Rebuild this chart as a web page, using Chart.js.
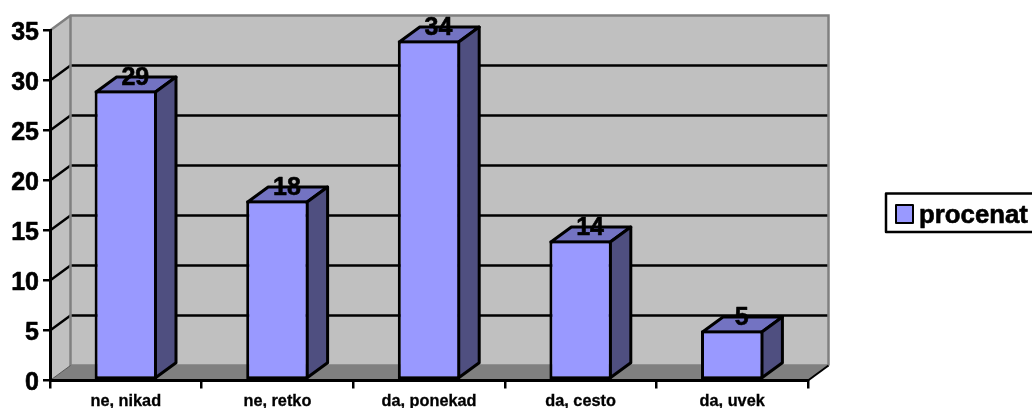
<!DOCTYPE html>
<html><head><meta charset="utf-8">
<style>html,body{margin:0;padding:0;background:#fff;overflow:hidden}canvas{display:block}</style>
<script src="https://cdn.jsdelivr.net/npm/chart.js@4"></script>
</head><body><canvas id="c" width="1032" height="408"></canvas>
<script>
const categories = ["ne, nikad","ne, retko","da, ponekad","da, cesto","da, uvek"];
const seriesName = "procenat";
const values = [29,18,34,14,5];
const yTicks = [0,5,10,15,20,25,30,35];
const DX = 20.5, DY = 15;
const FONT = '"Liberation Sans", Arial, sans-serif';

function poly(ctx, pts, fill, stroke, lw){
  ctx.beginPath();
  pts.forEach((p,i)=> i?ctx.lineTo(p[0],p[1]):ctx.moveTo(p[0],p[1]));
  ctx.closePath();
  if(fill){ctx.fillStyle=fill;ctx.fill();}
  if(stroke){ctx.strokeStyle=stroke;ctx.lineWidth=lw;ctx.lineJoin='round';ctx.stroke();}
}
function boldText(ctx,t,x,y){
  ctx.fillStyle='#000';ctx.strokeStyle='#000';ctx.lineWidth=0.6;ctx.lineJoin='round';
  ctx.fillText(t,x,y);ctx.strokeText(t,x,y);
}
const walls = {
  id:'walls',
  beforeDraw(chart){
    const {ctx,chartArea:a,scales:{y}} = chart;
    ctx.save();
    const L=a.left,R=a.right,T=a.top,B=a.bottom;
    poly(ctx,[[L+DX,T-DY],[R+DX,T-DY],[R+DX,B-DY],[L+DX,B-DY]],'#C0C0C0');
    poly(ctx,[[L,T],[L+DX,T-DY],[L+DX,B-DY],[L,B]],'#C0C0C0');
    poly(ctx,[[L,B],[L+DX,B-DY],[R+DX,B-DY],[R,B]],'#808080');
    ctx.strokeStyle='#000';ctx.lineWidth=2.4;
    yTicks.slice(1,-1).forEach(v=>{
      const p=y.getPixelForValue(v);
      ctx.beginPath();ctx.moveTo(L,p);ctx.lineTo(L+DX,p-DY);ctx.lineTo(R+DX,p-DY);ctx.stroke();
    });
    ctx.strokeStyle='#808080';ctx.lineWidth=2.5;
    ctx.beginPath();
    ctx.moveTo(L,T);ctx.lineTo(L+DX,T-DY);ctx.lineTo(R+DX,T-DY);ctx.lineTo(R+DX,B-DY);
    ctx.moveTo(L+DX,T-DY);ctx.lineTo(L+DX,B-DY);ctx.lineTo(R+DX,B-DY);
    ctx.stroke();
    ctx.strokeStyle='#000';ctx.lineWidth=2;
    ctx.beginPath();ctx.moveTo(R,B);ctx.lineTo(R+DX,B-DY);ctx.stroke();
    ctx.strokeStyle='#555';ctx.lineWidth=1;
    ctx.beginPath();ctx.moveTo(L,B);ctx.lineTo(L+DX,B-DY);ctx.stroke();
    ctx.restore();
  },
  afterDraw(chart){
    const {ctx,scales:{y}} = chart;
    ctx.save();
    ctx.font='bold 25px '+FONT;ctx.textAlign='right';ctx.textBaseline='alphabetic';
    yTicks.forEach(v=>boldText(ctx,String(v),39,y.getPixelForValue(v)+9.5));
    ctx.restore();
  }
};
const bars3d = {
  id:'bars3d',
  beforeDatasetsDraw(chart){
    const ctx=chart.ctx;
    ctx.save();
    chart.getDatasetMeta(0).data.forEach(b=>{
      const l=b.x-b.width/2+1.5,r=b.x+b.width/2-1.5,t=b.y+1.5,bm=b.base-1.5;
      poly(ctx,[[l,t],[l+DX,t-DY],[r+DX,t-DY],[r,t]],'#7373C2','#000',3);
      poly(ctx,[[r,t],[r+DX,t-DY],[r+DX,bm-DY],[r,bm]],'#4F4F80','#000',3);
    });
    ctx.restore();
  },
  afterDatasetsDraw(chart){
    const ctx=chart.ctx, ds=chart.data.datasets[0];
    ctx.save();
    ctx.font='bold 25px '+FONT;ctx.textAlign='center';ctx.textBaseline='alphabetic';
    chart.getDatasetMeta(0).data.forEach((b,i)=>{
      boldText(ctx,String(ds.data[i]),b.x+9.5,b.y-6);
    });
    ctx.strokeStyle='#000';ctx.lineWidth=2.5;
    ctx.beginPath();ctx.moveTo(1034,193.5);ctx.lineTo(886,193.5);ctx.lineTo(886,232);ctx.lineTo(1034,232);ctx.stroke();
    ctx.lineWidth=2;ctx.fillStyle=ds.backgroundColor;
    ctx.fillRect(896,205,17,18);ctx.strokeRect(896,205,17,18);
    ctx.font='bold 25.8px '+FONT;ctx.textAlign='left';
    boldText(ctx,ds.label,919,223);
    ctx.restore();
  }
};
new Chart(document.getElementById('c'),{
  type:'bar',
  data:{labels:categories,datasets:[{label:seriesName,data:values,backgroundColor:'#9999FF',borderColor:'#000',borderWidth:3,borderSkipped:false,barPercentage:0.8232,categoryPercentage:0.5}]},
  plugins:[walls,bars3d],
  options:{
    responsive:false,animation:false,devicePixelRatio:1,
    layout:{padding:{top:30.5,right:224,left:0,bottom:0}},
    plugins:{legend:{display:false},tooltip:{enabled:false}},
    scales:{
      x:{
        afterFit(s){s.height=27.5;},
        grid:{drawOnChartArea:false,drawTicks:true,tickLength:8,color:'#000',lineWidth:2.5},
        border:{color:'#000',width:3},
        ticks:{color:'#000',font:{family:FONT,weight:'bold',size:16.3},padding:3,maxRotation:0,textStrokeColor:'#000',textStrokeWidth:0.3}
      },
      y:{
        min:0,max:35,
        afterFit(s){s.width=50;},
        afterBuildTicks(s){s.ticks=yTicks.map(v=>({value:v}));},
        grid:{drawOnChartArea:false,drawTicks:true,tickLength:7,color:'#000',lineWidth:2.5},
        border:{color:'#000',width:3},
        ticks:{display:false}
      }
    }
  }
});
</script></body></html>
